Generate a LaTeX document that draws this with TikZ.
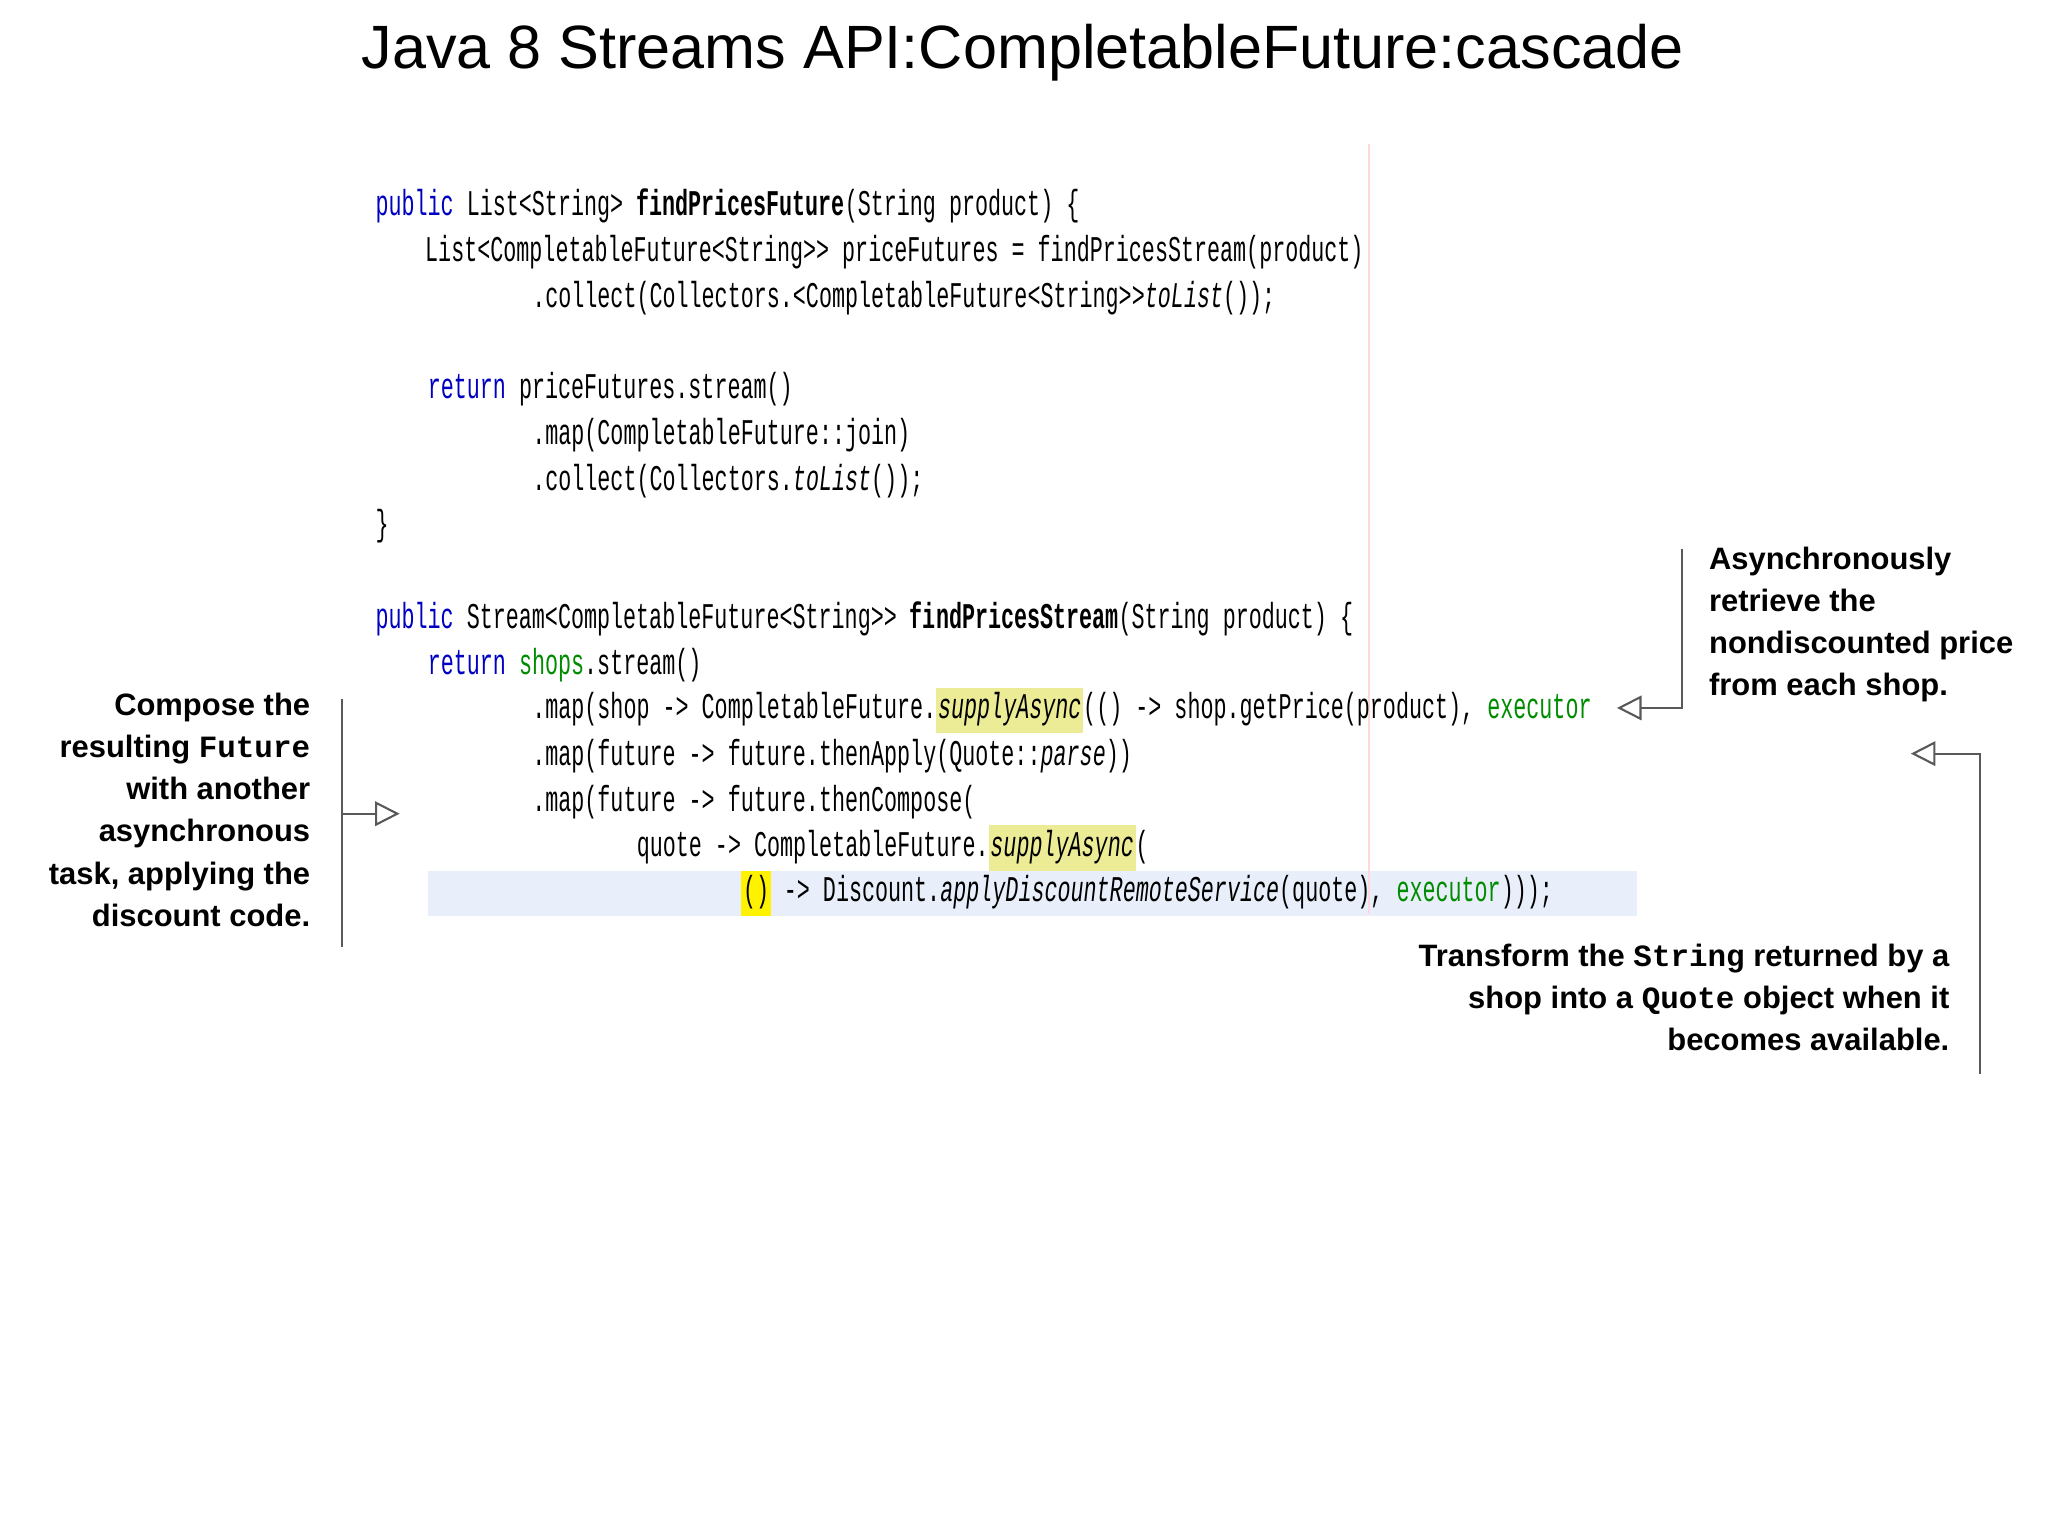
\documentclass[tikz,border=0pt]{standalone}
\usepackage{fontspec}
\setmainfont{Liberation Sans}
\newfontfamily\codefont[FakeStretch=0.6]{Liberation Mono}
\newfontfamily\notemono{Liberation Mono}
\usetikzlibrary{arrows.meta}
\definecolor{kwblue}{RGB}{0,0,192}
\definecolor{fldgreen}{RGB}{0,140,0}
\definecolor{hlyellow}{RGB}{236,236,150}
\definecolor{hlline}{RGB}{232,238,250}
\newcommand{\kw}[1]{\textcolor{kwblue}{#1}}
\newcommand{\fld}[1]{\textcolor{fldgreen}{#1}}
\newcommand{\hl}[1]{{\setlength{\fboxsep}{0.5pt}\colorbox{hlyellow}{\strut #1}}}
\begin{document}
\begin{tikzpicture}[x=0.01306cm,y=-0.01306cm]
\tikzstyle{code}  = [anchor=west, inner sep=0pt, font=\codefont\fontsize{10.3}{12}\selectfont]
\tikzstyle{note}  = [inner sep=0pt, font=\bfseries\fontsize{8.8}{12}\selectfont]
\tikzstyle{arrow} = [semithick, gray!70!black, -{Triangle[open, length=7pt, width=7pt]}]

\useasboundingbox (0,0) rectangle (1568,1175);

% current line and margin
\fill [hlline] (328,667) rectangle (1253,701);
\draw [red!15] (1048,110) -- (1048,700);

\node (title) at (783,40) {\fontsize{17.4}{22}\selectfont Java 8 Streams API:CompletableFuture:cascade};

\node (l1)  [code] at (287,158) {\kw{public} List<String> \textbf{findPricesFuture}(String product) \{};
\node (l2)  [code] at (325,193) {List<CompletableFuture<String>{}> priceFutures = findPricesStream(product)};
\node (l3)  [code] at (407,228) {.collect(Collectors.<CompletableFuture<String>{}>\textit{toList}());};
\node (l4)  [code] at (327,298) {\kw{return} priceFutures.stream()};
\node (l5)  [code] at (407,333) {.map(CompletableFuture::join)};
\node (l6)  [code] at (407,368) {.collect(Collectors.\textit{toList}());};
\node (l7)  [code] at (287,403) {\}};
\node (l8)  [code] at (287,474) {\kw{public} Stream<CompletableFuture<String>{}> \textbf{findPricesStream}(String product) \{};
\node (l9)  [code] at (327,509) {\kw{return} \fld{shops}.stream()};
\node (l10) [code] at (407,544) {.map(shop -> CompletableFuture.\hl{\textit{supplyAsync}}(() -> shop.getPrice(product), \fld{executor}};
\node (l11) [code] at (407,579) {.map(future -> future.thenApply(Quote::\textit{parse}))};
\node (l12) [code] at (407,614) {.map(future -> future.thenCompose(};
\node (l13) [code] at (487,649) {quote -> CompletableFuture.\hl{\textit{supplyAsync}}(};
\node (l14) [code] at (567,684) {{\setlength{\fboxsep}{0.5pt}\colorbox{yellow}{\strut()}} -> Discount.\textit{applyDiscountRemoteService}(quote), \fld{executor})));};

\node (compose)   [note, anchor=north east, align=right] at (238,530)
  {Compose the\\resulting {\notemono Future}\\with another\\asynchronous\\task, applying the\\discount code.};
\node (async)     [note, anchor=north west, align=left] at (1308,418)
  {Asynchronously\\retrieve the\\nondiscounted price\\from each shop.};
\node (transform) [note, anchor=north east, align=right] at (1493,722)
  {Transform the {\notemono String} returned by a\\shop into a {\notemono Quote} object when it\\becomes available.};

\coordinate (ctop) at (262,535);  \coordinate (cbot) at (262,725);
\coordinate (cmid) at (262,623);  \coordinate (ctip) at (306,623);
\coordinate (atop) at (1288,420); \coordinate (abot) at (1288,542);
\coordinate (atip) at (1238,542);
\coordinate (tbot) at (1516,822); \coordinate (tcor) at (1516,577);
\coordinate (ttip) at (1463,577);

\draw [semithick, gray!70!black] (ctop) -- (cbot);
\draw [arrow] (cmid) -- (ctip);
\draw [arrow] (atop) -- (abot) -- (atip);
\draw [arrow] (tbot) -- (tcor) -- (ttip);
\end{tikzpicture}
\end{document}
